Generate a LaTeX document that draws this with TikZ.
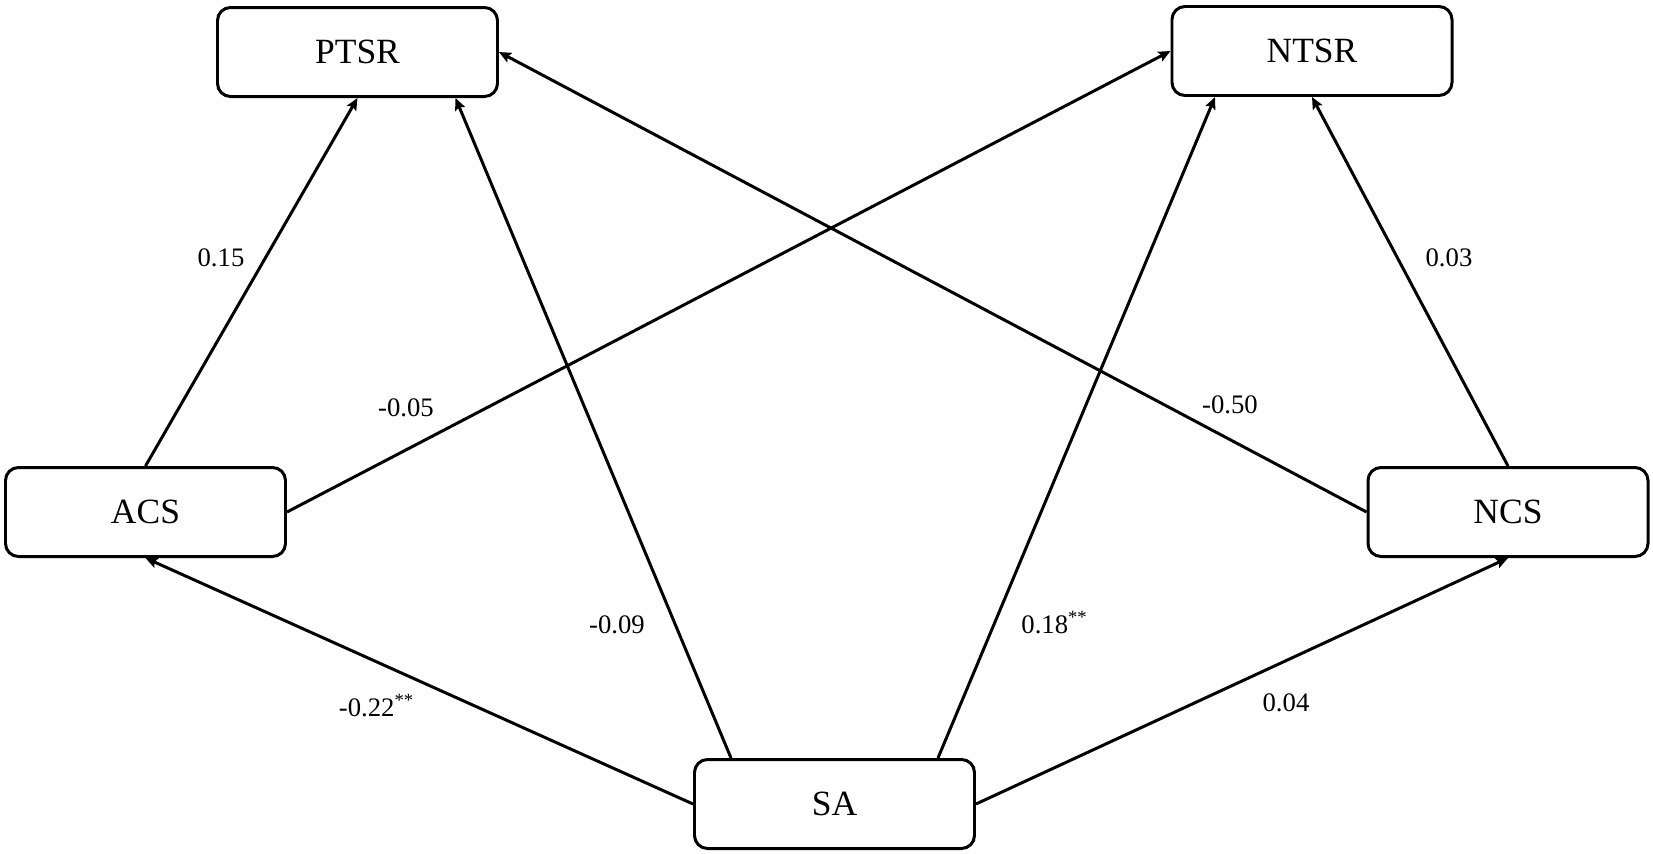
\documentclass[tikz,border=0pt]{standalone}
\usepackage{fontspec}
\setmainfont{Liberation Serif}
\usetikzlibrary{arrows.meta}

\begin{document}
\begin{tikzpicture}[
                var/.style={draw, line width=0.85pt, rounded corners=0.13cm,
                    minimum width=2.8cm, minimum height=0.89cm,
                    font=\fontsize{10.1}{12}\selectfont},
                link/.style={line width=0.85pt, -{Stealth[length=3.4pt,width=3pt,inset=0.6pt]}},
                coef/.style={font=\fontsize{7.6}{9}\selectfont}
            ]
                \useasboundingbox (0,0) rectangle (16.53,8.53);

                \node[var] (PTSR) at (3.575,8.01) {PTSR};
                \node[var] (NTSR) at (13.12,8.02) {NTSR};
                \node[var] (ACS) at (1.455,3.41) {ACS};
                \node[var] (NCS) at (15.08,3.41) {NCS};
                \node[var] (SA) at (8.345,0.49) {SA};

                \draw[link] (ACS.north) -- (PTSR.south);
                \draw[link] ([xshift=0.38cm]SA.north west) -- ([xshift=0.98cm]PTSR.south);
                \draw[link] ([xshift=-0.38cm]SA.north east) -- ([xshift=-0.97cm]NTSR.south);
                \draw[link] (NCS.north) -- (NTSR.south);
                \draw[link] (ACS.east) -- (NTSR.west);
                \draw[link] (NCS.west) -- (PTSR.east);
                \draw[link] (SA.west) -- (ACS.south);
                \draw[link] (SA.east) -- (NCS.south);

                \node[coef] (c1) at (2.21,5.95) {0.15};
                \node[coef] (c2) at (4.06,4.45) {-0.05};
                \node[coef] (c3) at (6.17,2.28) {-0.09};
                \node[coef] (c4) at (3.77,1.47) {-0.22\textsuperscript{**}};
                \node[coef] (c5) at (10.55,2.30) {0.18\textsuperscript{**}};
                \node[coef] (c6) at (12.86,1.50) {0.04};
                \node[coef] (c7) at (12.30,4.48) {-0.50};
                \node[coef] (c8) at (14.49,5.95) {0.03};
            \end{tikzpicture}
\end{document}
